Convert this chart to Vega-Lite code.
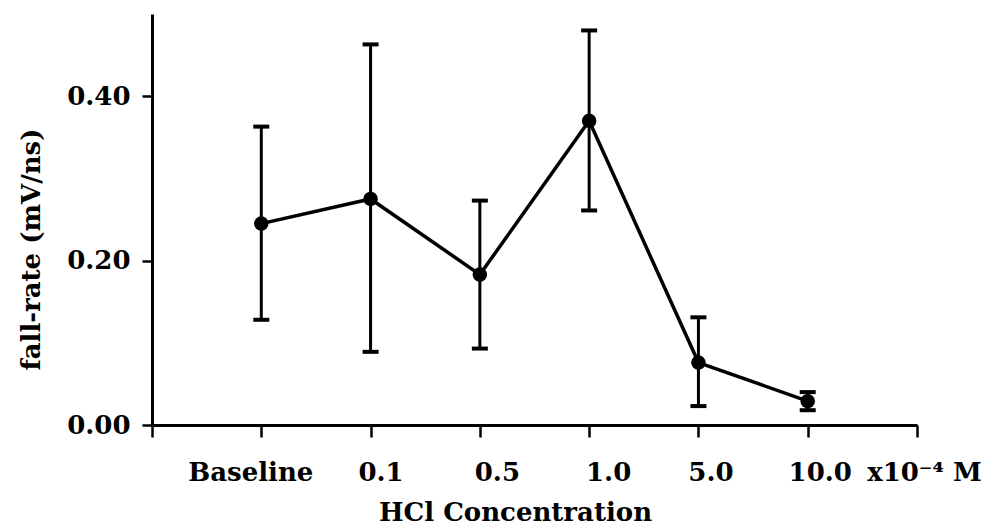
{
  "$schema": "https://vega.github.io/schema/vega-lite/v6.json",
  "width": 765,
  "height": 411,
  "autosize": {"type": "none"},
  "padding": {"left": 152, "top": 14, "right": 71, "bottom": 106},
  "background": "white",
  "config": {
    "view": {"stroke": null},
    "font": "DejaVu Serif",
    "axis": {
      "labelFont": "DejaVu Serif",
      "titleFont": "DejaVu Serif",
      "labelFontWeight": "bold",
      "titleFontWeight": "bold",
      "labelFontSize": 26,
      "titleFontSize": 26,
      "labelColor": "black",
      "titleColor": "black",
      "domainColor": "black",
      "tickColor": "black",
      "domainWidth": 3,
      "tickWidth": 2.5,
      "grid": false
    }
  },
  "data": {
    "values": [
      {"pos": 1, "conc": "Baseline", "rate": 0.245, "lo": 0.128, "hi": 0.363},
      {"pos": 2, "conc": "0.1", "rate": 0.275, "lo": 0.089, "hi": 0.463},
      {"pos": 3, "conc": "0.5", "rate": 0.183, "lo": 0.093, "hi": 0.273},
      {"pos": 4, "conc": "1.0", "rate": 0.370, "lo": 0.261, "hi": 0.480},
      {"pos": 5, "conc": "5.0", "rate": 0.076, "lo": 0.023, "hi": 0.131},
      {"pos": 6, "conc": "10.0", "rate": 0.029, "lo": 0.018, "hi": 0.040}
    ]
  },
  "encoding": {
    "x": {
      "field": "pos",
      "type": "quantitative",
      "scale": {"domain": [0, 7], "nice": false, "zero": false},
      "axis": {
        "values": [0, 1, 2, 3, 4, 5, 6, 7],
        "labelExpr": "['', 'Baseline', '0.1', '0.5', '1.0', '5.0', '10.0', 'x10⁻⁴ M'][datum.value]",
        "tickSize": 12,
        "labelPadding": 22,
        "labelFlush": false,
        "labelOverlap": false,
        "labelOffset": {
          "condition": [
            {"test": "datum.value == 1", "value": -11},
            {"test": "datum.value == 2", "value": 10},
            {"test": "datum.value == 3", "value": 17},
            {"test": "datum.value == 4", "value": 19},
            {"test": "datum.value == 7", "value": 7}
          ],
          "value": 12
        },
        "title": "HCl Concentration",
        "titleX": 363,
        "titlePadding": 14
      }
    }
  },
  "layer": [
    {
      "mark": {"type": "errorbar", "orient": "vertical", "ticks": {"size": 16, "thickness": 4, "color": "black", "opacity": 1}, "rule": {"strokeWidth": 3, "color": "black", "opacity": 1}},
      "encoding": {
        "y": {"field": "lo", "type": "quantitative", "title": "fall-rate (mV/ns)"},
        "y2": {"field": "hi"}
      }
    },
    {
      "mark": {"type": "line", "color": "black", "strokeWidth": 3.5},
      "encoding": {
        "y": {
          "field": "rate",
          "type": "quantitative",
          "scale": {"domain": [0, 0.5], "nice": false},
          "axis": {
            "values": [0, 0.2, 0.4],
            "format": ".2f",
            "tickSize": 10,
            "labelPadding": 12,
            "title": "fall-rate (mV/ns)",
            "titlePadding": 22,
            "titleY": 235
          }
        }
      }
    },
    {
      "mark": {"type": "point", "filled": true, "color": "black", "opacity": 1, "size": 210},
      "encoding": {
        "y": {"field": "rate", "type": "quantitative"}
      }
    }
  ]
}
